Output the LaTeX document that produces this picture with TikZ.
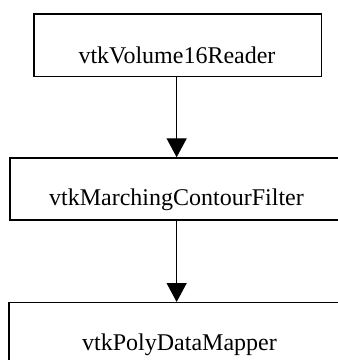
\documentclass[tikz,border=0pt]{standalone}
\usepackage{fontspec}
\setmainfont{Liberation Serif}
\usetikzlibrary{arrows.meta}
\begin{document}
\begin{tikzpicture}[x=1pt,y=-1pt,
 box/.style={draw=black,line width=1.3pt,inner sep=0pt,anchor=north west},
 lbl/.style={font=\fontsize{24}{28}\selectfont,anchor=base,inner sep=0pt},
 conn/.style={line width=1.3pt,-{Triangle[width=20pt,length=19pt]}}]
\useasboundingbox (0,0) rectangle (338,360);
\clip (0,0) rectangle (338,360);
\node[box,minimum width=287.4pt,minimum height=62.7pt] (b1) at (33.3,13.3) {};
\node[box,minimum width=340pt,minimum height=62pt] (b2) at (9.3,157.3) {};
\node[box,minimum width=340pt,minimum height=80pt] (b3) at (8.3,302) {};
\node[lbl] (t1) at (177,63.3) {vtkVolume16Reader};
\node[lbl] (t2) at (176.5,205.7) {vtkMarchingContourFilter};
\node[lbl] (t3) at (179.5,350) {vtkPolyDataMapper};
\draw[conn] ([xshift=-1pt]b1.south) -- ([xshift=-1pt]b1.south |- b2.north);
\draw[conn] ([xshift=-1pt]b1.south |- b2.south) -- ([xshift=-1pt]b1.south |- b3.north);
\end{tikzpicture}
\end{document}
